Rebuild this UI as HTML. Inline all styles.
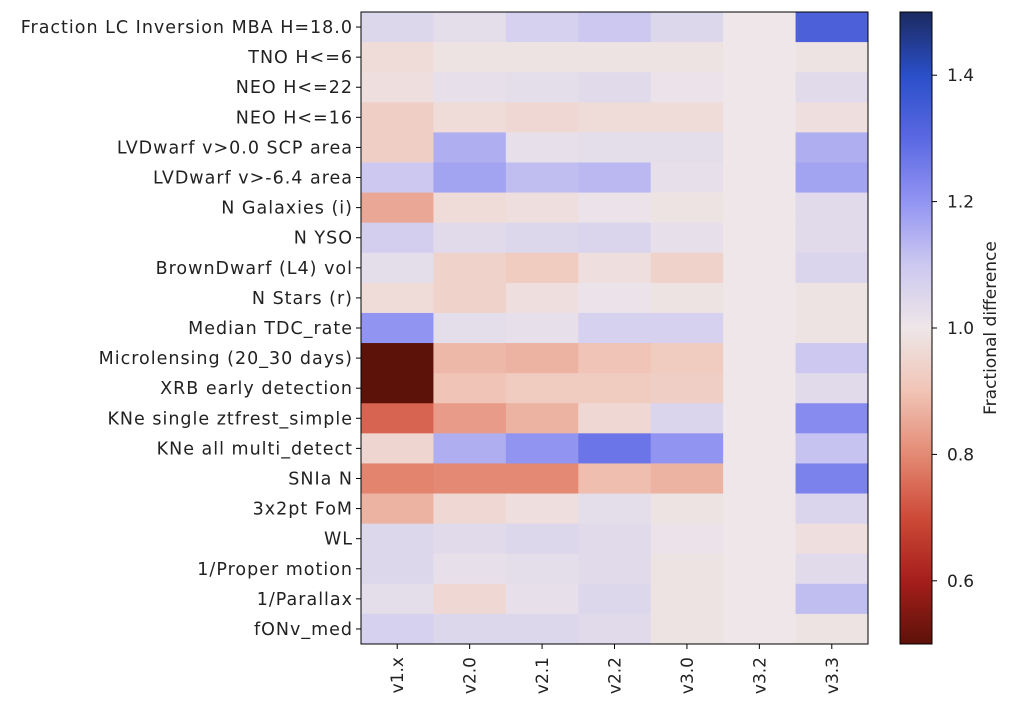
<!DOCTYPE html>
<html><head><meta charset="utf-8"><style>
body{margin:0;background:#fff;}
svg{font-family:"DejaVu Sans","Liberation Sans",sans-serif;}
</style></head><body>
<svg id="chart" width="1030" height="708" xmlns="http://www.w3.org/2000/svg"></svg>
<script>
const metrics=["Fraction LC Inversion MBA H=18.0","TNO H<=6","NEO H<=22","NEO H<=16","LVDwarf v>0.0 SCP area","LVDwarf v>-6.4 area","N Galaxies (i)","N YSO","BrownDwarf (L4) vol","N Stars (r)","Median TDC_rate","Microlensing (20_30 days)","XRB early detection","KNe single ztfrest_simple","KNe all multi_detect","SNIa N","3x2pt FoM","WL","1/Proper motion","1/Parallax","fONv_med"];
const versions=["v1.x","v2.0","v2.1","v2.2","v3.0","v3.2","v3.3"];
const values=[
[1.05,1.03,1.07,1.1,1.05,1.0,1.33],
[0.97,0.99,0.99,0.99,0.99,1.0,0.99],
[0.98,1.02,1.03,1.04,1.01,1.0,1.04],
[0.93,0.97,0.96,0.97,0.97,1.0,0.98],
[0.93,1.15,1.02,1.03,1.03,1.0,1.15],
[1.1,1.17,1.12,1.13,1.02,1.0,1.17],
[0.85,0.97,0.98,1.01,0.99,1.0,1.04],
[1.08,1.04,1.05,1.06,1.02,1.0,1.04],
[1.03,0.94,0.92,0.98,0.94,1.0,1.06],
[0.97,0.94,0.98,1.01,0.99,1.0,0.99],
[1.2,1.03,1.02,1.07,1.07,1.0,0.99],
[0.5,0.88,0.87,0.9,0.92,1.0,1.1],
[0.5,0.9,0.92,0.92,0.93,1.0,1.04],
[0.74,0.83,0.87,0.96,1.06,1.0,1.22],
[0.95,1.15,1.2,1.27,1.2,1.0,1.11],
[0.79,0.8,0.8,0.89,0.87,1.0,1.24],
[0.87,0.96,0.98,1.03,0.99,1.0,1.06],
[1.05,1.04,1.05,1.04,1.01,1.0,0.98],
[1.05,1.02,1.03,1.04,0.99,1.0,1.04],
[1.03,0.96,1.02,1.05,0.99,1.0,1.12],
[1.07,1.05,1.05,1.04,0.99,1.0,0.99]];
const cbTicks=[0.6,0.8,1.0,1.2,1.4];
const vmin=0.5,vmax=1.5;
const stops=[[0.5,[92,18,9]],[0.6,[166,30,28]],[0.7,[205,74,56]],[0.8,[228,138,116]],[0.9,[240,196,182]],[1.0,[238,230,232]],[1.1,[204,200,240]],[1.2,[146,148,242]],[1.3,[90,104,226]],[1.4,[42,79,200]],[1.5,[28,42,96]]];
function color(v){v=Math.max(vmin,Math.min(vmax,v));for(let i=0;i<stops.length-1;i++){const[a,ca]=stops[i],[b,cb]=stops[i+1];if(v<=b){const t=(v-a)/(b-a);return"rgb("+ca.map((c,k)=>Math.round(c+(cb[k]-c)*t)).join(",")+")";}}return"rgb(28,42,96)";}
const X0=361,X1=868,Y0=12,Y1=644;
const FS=17,FSY=17.5;
const cw=(X1-X0)/versions.length,rh=(Y1-Y0)/metrics.length;
const xs=i=>X0+i*cw, ys=j=>Y0+j*rh;
const CB0=900,CB1=932;
const cy=v=>Y1-(v-vmin)/(vmax-vmin)*(Y1-Y0);
const svg=document.getElementById('chart');const NS="http://www.w3.org/2000/svg";
function el(t,a,p){const e=document.createElementNS(NS,t);for(const k in a)e.setAttribute(k,a[k]);(p||svg).appendChild(e);return e;}
values.forEach((row,j)=>row.forEach((v,i)=>{
const r=el('rect',{x:xs(i),y:ys(j),width:cw+0.5,height:rh+0.5,fill:color(v)});


}));
const fr=el('rect',{x:X0,y:Y0,width:X1-X0,height:Y1-Y0,fill:'none',stroke:'#000','stroke-width':1});


metrics.forEach((m,j)=>{
const y=ys(j)+rh/2;
el('line',{x1:X0-5,x2:X0,y1:y,y2:y,stroke:'#000'});
const t=el('text',{x:X0-8,y:y+6,'text-anchor':'end','font-size':FSY,'letter-spacing':'1px',fill:'#222'});t.textContent=m;


});
versions.forEach((v,i)=>{
const x=xs(i)+cw/2;
el('line',{x1:x,x2:x,y1:Y1,y2:Y1+5,stroke:'#000'});
const t=el('text',{x:0,y:0,'text-anchor':'end','font-size':FS,fill:'#222',transform:`translate(${x+6},${Y1+13}) rotate(-90)`});t.textContent=v;


});
const defs=el('defs',{});const g=el('linearGradient',{id:'cbg',x1:0,y1:1,x2:0,y2:0},defs);
stops.forEach(s=>el('stop',{offset:(s[0]-vmin)/(vmax-vmin),'stop-color':color(s[0])},g));
const cb=el('rect',{x:CB0,y:Y0,width:CB1-CB0,height:Y1-Y0,fill:'url(#cbg)',stroke:'#000','stroke-width':1});


cbTicks.forEach(v=>{
const y=cy(v);
el('line',{x1:CB1,x2:CB1+5,y1:y,y2:y,stroke:'#000'});
const t=el('text',{x:CB1+15,y:y+6,'font-size':FS,fill:'#222'});t.textContent=v.toFixed(1);


});
const lab=el('text',{x:0,y:0,'text-anchor':'middle','font-size':FS,fill:'#222',transform:`translate(996,${(Y0+Y1)/2}) rotate(-90)`});lab.textContent="Fractional difference";


</script>
</body></html>
